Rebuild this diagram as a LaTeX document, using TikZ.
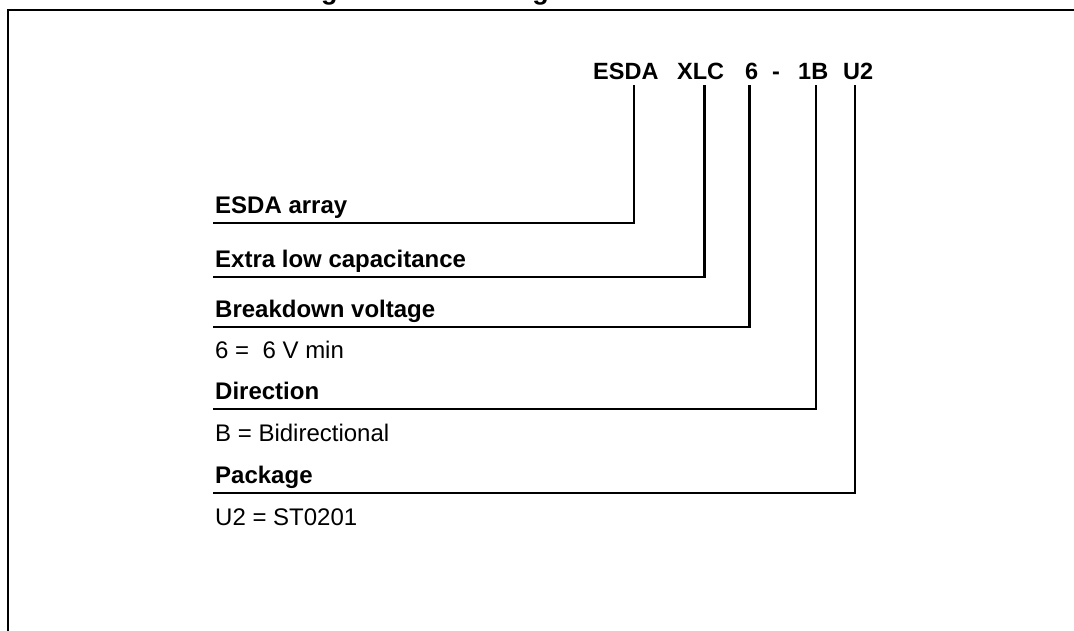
\documentclass[tikz,border=0pt]{standalone}
\usepackage{fontspec}
\setmainfont{Liberation Sans}

\begin{document}
\begin{tikzpicture}[x=1pt,y=-1pt]
    % `code' is used for the parts of the part number at the top.
    % `field' is used for the bold headings on the left.
    % `value' is used for the plain lines under some headings.
    % `lead' is used for the lines from a part down to its heading.
    \tikzstyle{code} = [anchor=base west,inner sep=0pt,font=\fontsize{23.5}{27}\selectfont\bfseries]
    \tikzstyle{field} = [anchor=base west,inner sep=0pt,font=\fontsize{24}{28}\selectfont\bfseries]
    \tikzstyle{value} = [anchor=base west,inner sep=0pt,font=\fontsize{24}{28}\selectfont]
    \tikzstyle{lead} = [line width=2.5pt,line join=miter]
    %
    \useasboundingbox (0,0) rectangle (1074,631);
    % Draw frame.
    \draw[line width=2.5pt,line join=miter] (8,631) -- (8,10) -- (1074,10);
    % Title, cut off at the top.
    \begin{scope}
      \clip (0,0) rectangle (1074,8);
      \node[anchor=base,inner sep=0pt,font=\fontsize{27}{31}\selectfont\bfseries] (title) at (555,0) {Figure 12. Ordering information scheme};
    \end{scope}
    % Part number.
    \node[code] (esda) at (593,80) {ESDA};
    \node[code] (xlc) at (677,80) {XLC};
    \node[code] (volt) at (745,80) {6};
    \node[code] (hyph) at (772,80) {-};
    \node[code] (dir) at (798,80) {1B};
    \node[code] (pkg) at (843,80) {U2};
    % Headings and values.
    \node[field] (lesda) at (215,214) {ESDA array};
    \node[field] (lxlc) at (215,268) {Extra low capacitance};
    \node[field] (lvolt) at (215,317) {Breakdown voltage};
    \node[value] (vvolt) at (215,358) {6 =\ \ 6 V min};
    \node[field] (ldir) at (215,399) {Direction};
    \node[value] (vdir) at (215,441) {B = Bidirectional};
    \node[field] (lpkg) at (215,483) {Package};
    \node[value] (vpkg) at (215,525) {U2 = ST0201};
    % Draw leads.
    \draw[lead] ([shift={(8,5)}]esda.south) |- ([shift={(-2,9)}]lesda.base west);
    \draw[lead] ([shift={(4,5)}]xlc.south) |- ([shift={(-2,9)}]lxlc.base west);
    \draw[lead] ([shift={(-2,5)}]volt.south) |- ([shift={(-2,10)}]lvolt.base west);
    \draw[lead] ([shift={(3,5)}]dir.south) |- ([shift={(-2,10)}]ldir.base west);
    \draw[lead] ([shift={(-3,5)}]pkg.south) |- ([shift={(-2,10)}]lpkg.base west);
\end{tikzpicture}
\end{document}
